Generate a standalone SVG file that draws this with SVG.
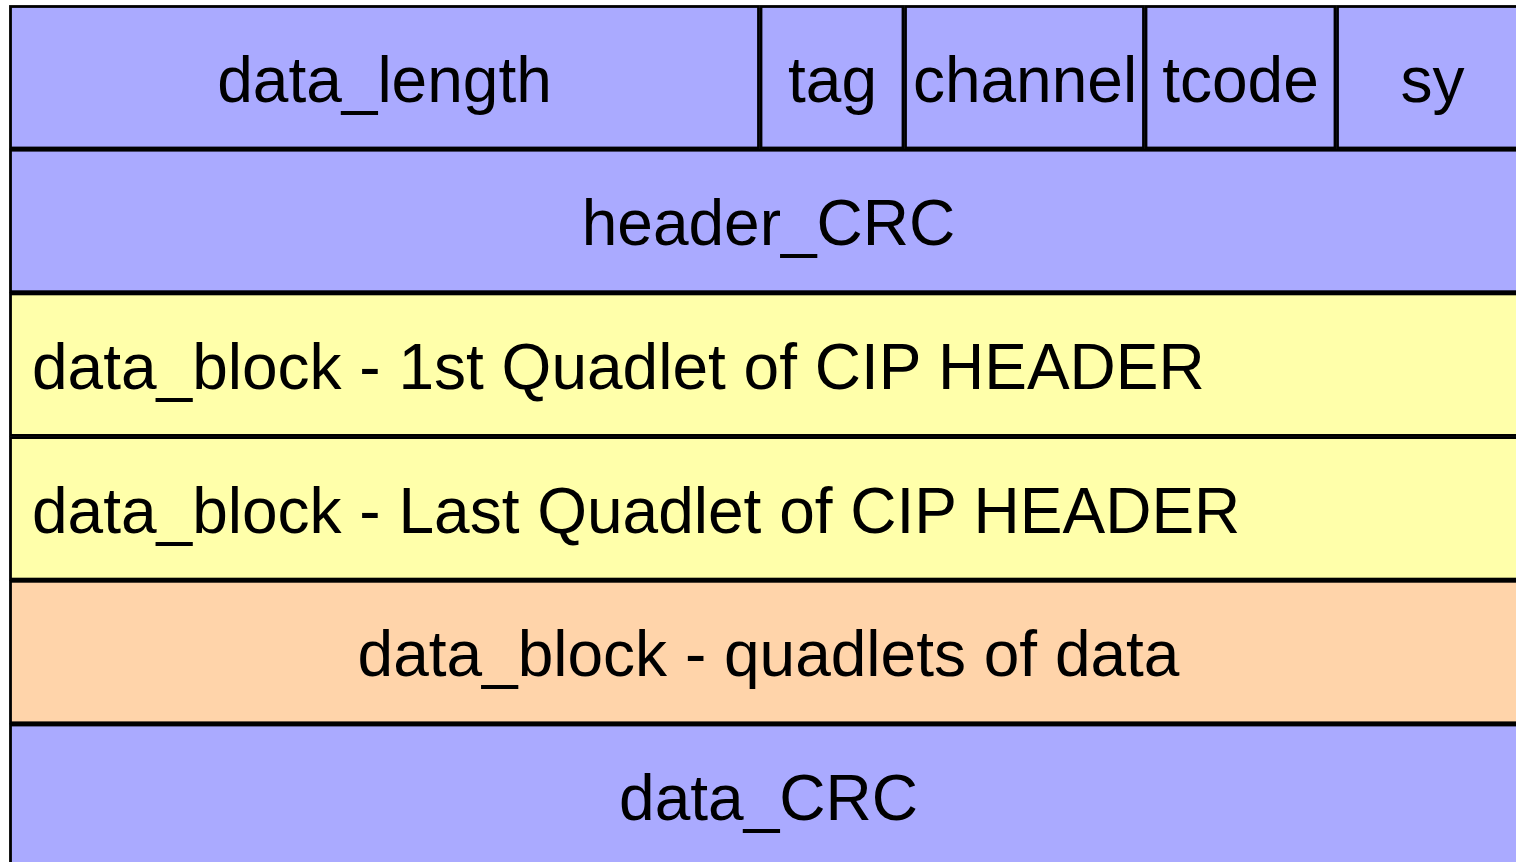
<svg xmlns="http://www.w3.org/2000/svg" width="1516" height="862" viewBox="0 0 1516 862">
  <style>
    .cell { stroke: #000; stroke-width: 2.8; }
    .hdr { fill: #aaaaff; }
    .cip { fill: #ffffaa; }
    .dat { fill: #ffd4aa; }
    .lbl { font-family: "Liberation Sans", Arial, sans-serif; font-size: 64px; fill: #000; }
    .mid { text-anchor: middle; }
  </style>
  <rect x="0" y="0" width="1516" height="862" fill="#ffffff"/>

  <!-- first quadlet: packet header fields -->
  <g id="data_length">
    <rect class="cell hdr" x="10.5" y="6.5" width="748" height="141.5"/>
    <text class="lbl mid" x="384.5" y="101.5">data_length</text>
  </g>
  <g id="tag">
    <rect class="cell hdr" x="761" y="6.5" width="142" height="141.5"/>
    <text class="lbl mid" x="832.5" y="101.5">tag</text>
  </g>
  <g id="channel">
    <rect class="cell hdr" x="905.5" y="6.5" width="238" height="141.5"/>
    <text class="lbl mid" x="1025" y="101.5">channel</text>
  </g>
  <g id="tcode">
    <rect class="cell hdr" x="1146" y="6.5" width="189" height="141.5"/>
    <text class="lbl mid" x="1240.5" y="101.5">tcode</text>
  </g>
  <g id="sy">
    <rect class="cell hdr" x="1337.5" y="6.5" width="190" height="141.5"/>
    <text class="lbl mid" x="1432.5" y="101.5">sy</text>
  </g>

  <g id="header_CRC">
    <rect class="cell hdr" x="10.5" y="150.2" width="1516" height="141.5"/>
    <text class="lbl mid" x="768.5" y="245.2">header_CRC</text>
  </g>

  <g id="cip_first">
    <rect class="cell cip" x="10.5" y="293.9" width="1516" height="141.5"/>
    <text class="lbl" x="32" y="388.9">data_block - 1st Quadlet of CIP HEADER</text>
  </g>

  <g id="cip_last">
    <rect class="cell cip" x="10.5" y="437.6" width="1516" height="141.5"/>
    <text class="lbl" x="32" y="532.6">data_block - Last Quadlet of CIP HEADER</text>
  </g>

  <g id="payload">
    <rect class="cell dat" x="10.5" y="581.3" width="1516" height="141.5"/>
    <text class="lbl mid" x="768.5" y="676.3">data_block - quadlets of data</text>
  </g>

  <g id="data_CRC">
    <rect class="cell hdr" x="10.5" y="725" width="1516" height="160"/>
    <text class="lbl mid" x="768.5" y="820">data_CRC</text>
  </g>

  <g id="connectors"/>
</svg>
